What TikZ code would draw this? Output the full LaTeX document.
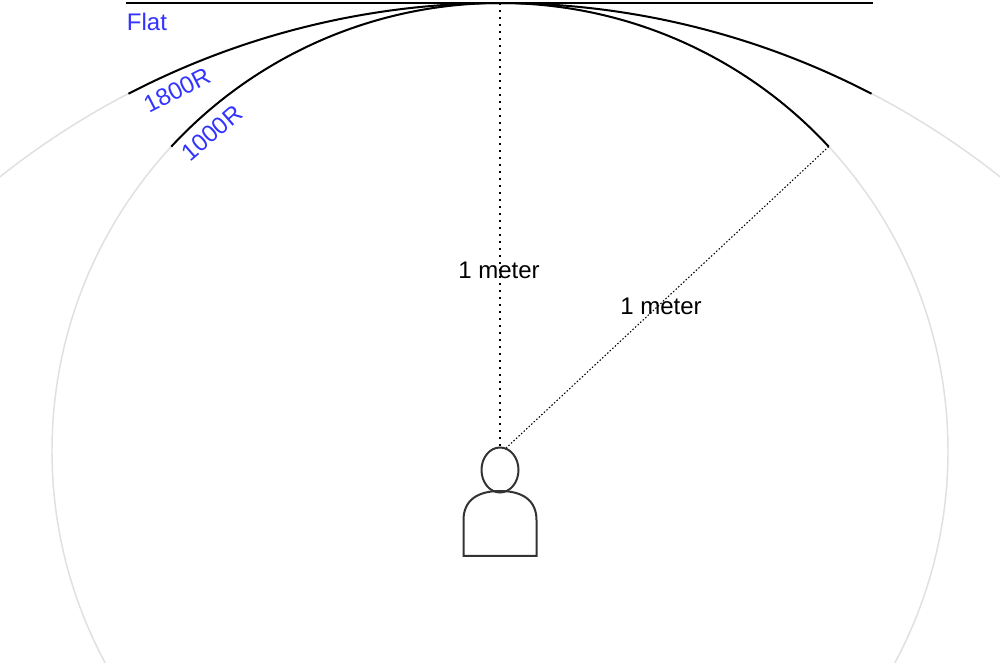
\documentclass[tikz,border=0pt]{standalone}
\usepackage{fontspec}
\setmainfont{Liberation Sans}
\usetikzlibrary{shapes.geometric,calc}
\definecolor{lbl}{HTML}{3333FF}
\definecolor{guide}{HTML}{E0E0E0}
\definecolor{person}{HTML}{333333}
\tikzset{
  screen/.style={draw=black,line width=1.5pt},
  guidecirc/.style={draw=guide,line width=1.1pt},
  lbltext/.style={text=lbl,font=\fontsize{18}{21}\selectfont,inner sep=0pt},
  meas/.style={text=black,font=\fontsize{18}{21}\selectfont,inner sep=0pt},
  vdot/.style={draw=black,line width=1.5pt,dash pattern=on 1.5pt off 3.75pt},
  ddot/.style={draw=black,line width=0.8pt,dash pattern=on 1.1pt off 1.5pt},
  personline/.style={draw=person,line width=1.5pt}
}
\begin{document}
\begin{tikzpicture}[x=0.75pt,y=0.75pt]
\useasboundingbox (0,0) rectangle (1000,663);
\fill[white] (0,0) rectangle (1000,663);
% guide circles
\begin{scope}
\clip (0,0) rectangle (1000,663);
\draw[guidecirc] (500,212) circle[radius=448];
\draw[guidecirc] (500,-146) circle[radius=806];
\end{scope}
% coordinates
\coordinate (top) at (500,660);
\coordinate (flatL) at (126,660);
\coordinate (flatR) at (873,660);
\coordinate (c1000) at (500,212);
\coordinate (c1800) at (500,-146);
\coordinate (e1000L) at ($(c1000)+(137.2:448)$);
\coordinate (e1000R) at ($(c1000)+(42.8:448)$);
\coordinate (e1800L) at ($(c1800)+(117.45:806)$);
% screens
\draw[screen] (flatL) -- (flatR);
\draw[screen] (e1000L) arc[start angle=137.2,end angle=42.8,radius=448];
\draw[screen] (e1800L) arc[start angle=117.45,end angle=62.55,radius=806];
% person
\node[ellipse,personline,fill=white,minimum width=27.75pt,minimum height=33.75pt,inner sep=0pt] (head) at (500,193) {};
\draw[personline] (463.5,107) -- (463.5,143) .. controls (463.5,163) and (478,172) .. (500,172)
  .. controls (522,172) and (536.5,163) .. (536.5,143) -- (536.5,107) -- cycle;
% measurement lines
\draw[vdot] (top) -- (head.north);
\draw[ddot] (e1000R) -- (head.74);
% labels
\node[meas] (m1) at (499,393) {1 meter};
\node[meas] (m2) at (661,357) {1 meter};
\node[lbltext] (flat) at (147,641) {Flat};
\node[lbltext,rotate=27] (l1800) at (177,573) {1800R};
\node[lbltext,rotate=41] (l1000) at (212,530) {1000R};
\end{tikzpicture}
\end{document}
